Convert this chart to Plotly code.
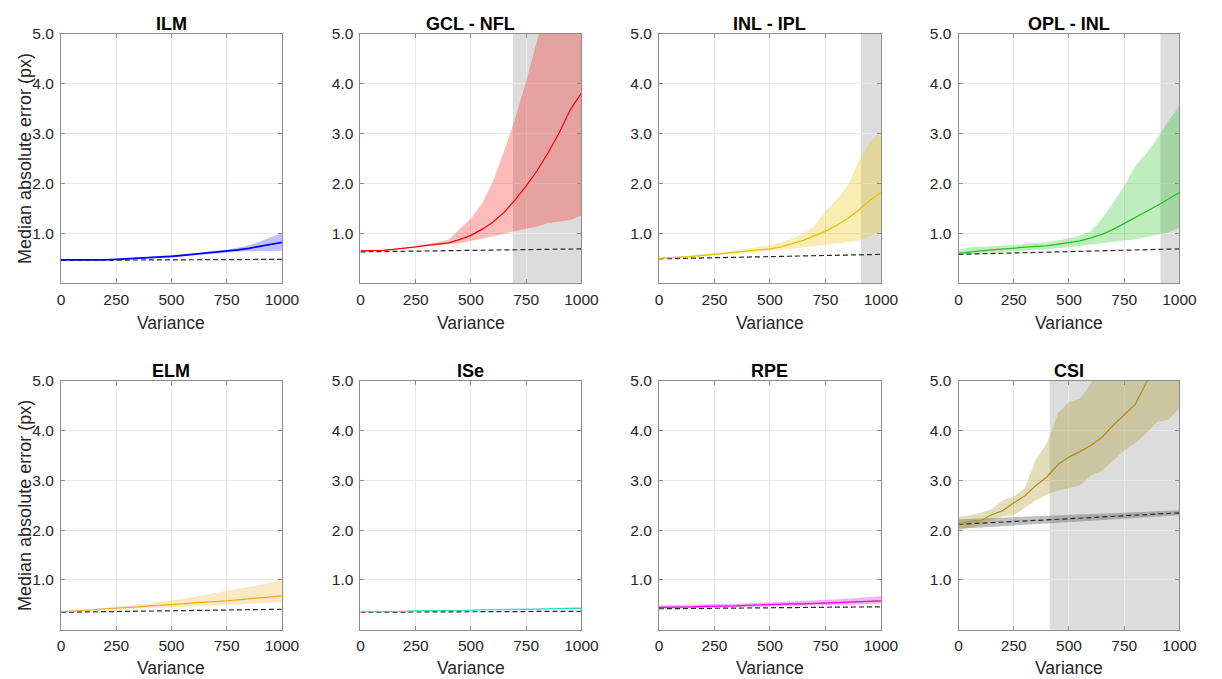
import plotly.graph_objects as go

# ---------------- data ----------------
variance = [0, 50, 100, 150, 200, 250, 300, 350, 400, 450, 500,
            550, 600, 650, 700, 750, 800, 850, 900, 950, 1000]
base_x = [0, 250, 500, 750, 1000]

titles = ["ILM", "GCL - NFL", "INL - IPL", "OPL - INL", "ELM", "ISe", "RPE", "CSI"]

ilm_med = [0.47, 0.47, 0.46, 0.46, 0.47, 0.48, 0.49, 0.50, 0.51, 0.53, 0.54, 0.56, 0.58, 0.60, 0.62, 0.64, 0.67, 0.70, 0.74, 0.79, 0.82]
ilm_hi  = [0.48, 0.48, 0.47, 0.47, 0.48, 0.49, 0.50, 0.52, 0.53, 0.55, 0.56, 0.58, 0.60, 0.62, 0.64, 0.67, 0.71, 0.76, 0.84, 0.93, 1.01]
ilm_lo  = [0.46, 0.46, 0.45, 0.45, 0.46, 0.47, 0.48, 0.49, 0.50, 0.51, 0.52, 0.54, 0.56, 0.57, 0.59, 0.61, 0.63, 0.64, 0.65, 0.65, 0.65]
ilm_base = [0.46, 0.465, 0.47, 0.475, 0.48]

gcl_med = [0.65, 0.65, 0.66, 0.68, 0.70, 0.73, 0.76, 0.78, 0.81, 0.88, 0.96, 1.08, 1.23, 1.42, 1.67, 1.95, 2.26, 2.62, 3.02, 3.48, 3.81]
gcl_hi  = [0.66, 0.66, 0.67, 0.69, 0.71, 0.74, 0.78, 0.82, 0.88, 1.08, 1.30, 1.60, 2.05, 2.65, 3.30, 4.05, 4.95, 5.80, 6.50, 7.20, 7.80]
gcl_lo  = [0.64, 0.64, 0.65, 0.67, 0.69, 0.72, 0.74, 0.76, 0.78, 0.80, 0.84, 0.89, 0.94, 0.99, 1.05, 1.10, 1.14, 1.21, 1.24, 1.27, 1.36]
gcl_base = [0.63, 0.645, 0.66, 0.675, 0.69]

inl_med = [0.50, 0.51, 0.52, 0.54, 0.56, 0.58, 0.60, 0.62, 0.64, 0.66, 0.69, 0.73, 0.79, 0.86, 0.95, 1.04, 1.16, 1.30, 1.47, 1.66, 1.82]
inl_hi  = [0.51, 0.52, 0.54, 0.56, 0.58, 0.61, 0.63, 0.66, 0.69, 0.72, 0.76, 0.82, 0.90, 1.00, 1.15, 1.45, 1.68, 1.95, 2.45, 2.82, 3.05]
inl_lo  = [0.49, 0.50, 0.51, 0.52, 0.54, 0.56, 0.58, 0.60, 0.61, 0.63, 0.65, 0.67, 0.69, 0.71, 0.74, 0.77, 0.79, 0.82, 0.86, 0.95, 1.02]
inl_base = [0.49, 0.51, 0.535, 0.56, 0.58]

opl_med = [0.60, 0.63, 0.65, 0.67, 0.69, 0.70, 0.72, 0.74, 0.75, 0.78, 0.81, 0.85, 0.91, 0.98, 1.08, 1.20, 1.32, 1.43, 1.56, 1.69, 1.82]
opl_hi  = [0.66, 0.72, 0.73, 0.74, 0.75, 0.76, 0.79, 0.81, 0.82, 0.86, 0.91, 0.96, 1.05, 1.30, 1.62, 1.95, 2.35, 2.60, 2.90, 3.25, 3.55]
opl_lo  = [0.56, 0.58, 0.60, 0.61, 0.62, 0.64, 0.65, 0.67, 0.68, 0.70, 0.72, 0.74, 0.77, 0.80, 0.83, 0.86, 0.88, 0.92, 0.97, 1.02, 1.12]
opl_base = [0.58, 0.61, 0.64, 0.665, 0.69]

elm_med = [0.36, 0.37, 0.39, 0.40, 0.42, 0.43, 0.45, 0.46, 0.48, 0.49, 0.51, 0.52, 0.54, 0.55, 0.57, 0.58, 0.60, 0.62, 0.64, 0.66, 0.68]
elm_hi  = [0.37, 0.38, 0.40, 0.42, 0.44, 0.46, 0.48, 0.50, 0.53, 0.56, 0.59, 0.62, 0.65, 0.70, 0.74, 0.78, 0.81, 0.85, 0.90, 0.95, 1.00]
elm_lo  = [0.35, 0.36, 0.37, 0.38, 0.39, 0.40, 0.41, 0.42, 0.43, 0.44, 0.45, 0.46, 0.47, 0.48, 0.49, 0.50, 0.51, 0.52, 0.53, 0.54, 0.55]
elm_base = [0.35, 0.365, 0.38, 0.395, 0.41]

ise_med = [0.36, 0.36, 0.37, 0.37, 0.37, 0.38, 0.38, 0.38, 0.39, 0.39, 0.39, 0.40, 0.40, 0.40, 0.41, 0.41, 0.41, 0.42, 0.42, 0.43, 0.43]
ise_hi  = [0.37, 0.37, 0.38, 0.38, 0.38, 0.39, 0.39, 0.39, 0.40, 0.40, 0.41, 0.41, 0.42, 0.42, 0.43, 0.43, 0.43, 0.44, 0.44, 0.45, 0.45]
ise_lo  = [0.35, 0.35, 0.36, 0.36, 0.36, 0.37, 0.37, 0.37, 0.38, 0.38, 0.38, 0.39, 0.39, 0.39, 0.40, 0.40, 0.40, 0.41, 0.41, 0.41, 0.41]
ise_base = [0.35, 0.355, 0.36, 0.365, 0.37]

rpe_med = [0.45, 0.45, 0.46, 0.46, 0.47, 0.47, 0.48, 0.48, 0.49, 0.50, 0.50, 0.51, 0.52, 0.52, 0.53, 0.54, 0.55, 0.56, 0.57, 0.58, 0.58]
rpe_hi  = [0.49, 0.49, 0.50, 0.50, 0.51, 0.51, 0.52, 0.52, 0.53, 0.54, 0.55, 0.55, 0.56, 0.57, 0.58, 0.59, 0.61, 0.62, 0.64, 0.66, 0.67]
rpe_lo  = [0.42, 0.42, 0.43, 0.43, 0.44, 0.44, 0.45, 0.45, 0.46, 0.46, 0.47, 0.47, 0.48, 0.48, 0.49, 0.49, 0.50, 0.50, 0.51, 0.51, 0.52]
rpe_base = [0.42, 0.43, 0.44, 0.45, 0.46]

csi_med = [2.12, 2.18, 2.19, 2.31, 2.39, 2.55, 2.69, 2.90, 3.07, 3.32, 3.47, 3.58, 3.71, 3.87, 4.11, 4.33, 4.53, 4.97, 5.40, 5.80, 6.20]
csi_hi  = [2.27, 2.30, 2.35, 2.42, 2.60, 2.68, 2.85, 3.42, 3.75, 4.35, 4.58, 4.65, 4.95, 5.30, 5.60, 6.00, 6.40, 6.80, 7.20, 7.60, 8.00]
csi_lo  = [2.00, 2.05, 2.10, 2.20, 2.28, 2.30, 2.45, 2.60, 2.72, 2.80, 2.85, 2.90, 3.10, 3.20, 3.40, 3.60, 3.75, 3.95, 4.18, 4.22, 4.45]
csi_base = [2.12, 2.17, 2.23, 2.29, 2.35]
csi_base_hi = [2.22, 2.26, 2.30, 2.35, 2.40]
csi_base_lo = [2.03, 2.09, 2.16, 2.23, 2.30]

# variance above which the shaded (grey) zone starts; None = no zone
shade_from = [None, 690, 910, 914, None, None, None, 413]

x_ticks = [0, 250, 500, 750, 1000]
x_ticktext = ["0", "250", "500", "750", "1000"]
y_ticks = [1, 2, 3, 4, 5]
y_ticktext = ["1.0", "2.0", "3.0", "4.0", "5.0"]

line_colors = ["#0000FF", "#FF0000", "#E6C200", "#1EC31E", "#F5A81E", "#2DD9C2", "#E000E0", "#A89214"]
fill_colors = ["rgba(0,0,255,0.25)", "rgba(255,0,0,0.27)", "rgba(235,205,40,0.35)",
               "rgba(40,200,40,0.3)", "rgba(245,175,40,0.28)", "rgba(40,220,200,0.45)",
               "rgba(230,0,230,0.3)", "rgba(170,150,40,0.32)"]

meds = [ilm_med, gcl_med, inl_med, opl_med, elm_med, ise_med, rpe_med, csi_med]
his = [ilm_hi, gcl_hi, inl_hi, opl_hi, elm_hi, ise_hi, rpe_hi, csi_hi]
los = [ilm_lo, gcl_lo, inl_lo, opl_lo, elm_lo, ise_lo, rpe_lo, csi_lo]
bases = [ilm_base, gcl_base, inl_base, opl_base, elm_base, ise_base, rpe_base, csi_base]

# ---------------- layout geometry ----------------
W, H = 1222, 679
col_px = [(58, 283), (363, 588), (667, 893), (972, 1197)]
row_px = [(25, 278), (377, 629)]

FONT = "Liberation Sans, Arial, Helvetica, sans-serif"
fig = go.Figure()
layout = dict(width=W, height=H, margin=dict(l=0, r=0, t=0, b=0),
              paper_bgcolor="white", plot_bgcolor="white", showlegend=False,
              font=dict(family=FONT, color="#262626"))
shapes = []
annotations = []

for i in range(8):
    r, c = divmod(i, 4)
    n = i + 1
    xa = "x" if n == 1 else f"x{n}"
    ya = "y" if n == 1 else f"y{n}"
    x0p, x1p = col_px[c]
    y0p, y1p = row_px[r]
    axis_common = dict(showgrid=True, gridcolor="#e8e8e8", gridwidth=1,
                       showline=True, mirror="ticks", linecolor="#8c8c8c", linewidth=1,
                       ticks="inside", ticklen=4, tickcolor="#8c8c8c", zeroline=False,
                       tickfont=dict(size=15.5, color="#262626", family=FONT))
    layout["xaxis" if n == 1 else f"xaxis{n}"] = dict(
        axis_common, domain=[x0p / W, x1p / W], range=[0, 1000],
        tickvals=x_ticks, ticktext=x_ticktext, anchor=ya, ticklabelstandoff=2)
    layout["yaxis" if n == 1 else f"yaxis{n}"] = dict(
        axis_common, domain=[1 - y1p / H, 1 - y0p / H], range=[0, 5],
        tickvals=y_ticks, ticktext=y_ticktext, anchor=xa, ticklabelstandoff=3)

    if shade_from[i] is not None:
        shapes.append(dict(type="rect", xref=xa, yref=f"{ya} domain",
                           x0=shade_from[i], x1=1000, y0=0, y1=1,
                           fillcolor="rgb(220,220,220)", line=dict(width=0), layer="below"))

    # baseline band (CSI)
    if i == 7:
        fig.add_trace(go.Scatter(x=base_x + base_x[::-1], y=csi_base_hi + csi_base_lo[::-1],
                                 fill="toself", fillcolor="rgba(110,110,110,0.45)",
                                 line=dict(width=0), mode="lines", xaxis=xa, yaxis=ya,
                                 hoverinfo="skip"))
    # error band
    fig.add_trace(go.Scatter(x=variance + variance[::-1], y=his[i] + los[i][::-1],
                             fill="toself", fillcolor=fill_colors[i], line=dict(width=0),
                             mode="lines", xaxis=xa, yaxis=ya, hoverinfo="skip"))
    # baseline dashed
    fig.add_trace(go.Scatter(x=base_x, y=bases[i], mode="lines",
                             line=dict(color="#2a2a2a", width=1.2, dash="5px,3px"),
                             xaxis=xa, yaxis=ya))
    # median
    fig.add_trace(go.Scatter(x=variance, y=meds[i], mode="lines",
                             line=dict(color=line_colors[i], width=1.6 if i == 0 else 1.2),
                             xaxis=xa, yaxis=ya))

    cx = (x0p + x1p) / 2 / W
    title_y = [15, 367][r]
    annotations.append(dict(text=f"<b>{titles[i]}</b>", x=cx, y=1 - title_y / H,
                            xref="paper", yref="paper", showarrow=False,
                            xanchor="center", yanchor="middle",
                            font=dict(size=18, color="black", family=FONT)))
    var_y = [318, 668][r]
    annotations.append(dict(text="Variance", x=cx, y=1 - var_y / H,
                            xref="paper", yref="paper", showarrow=False,
                            xanchor="center", yanchor="middle",
                            font=dict(size=17.5, color="#262626", family=FONT)))
    if c == 0:
        annotations.append(dict(text="Median absolute error (px)", x=22 / W,
                                y=1 - (y0p + y1p) / 2 / H, xref="paper", yref="paper",
                                showarrow=False, textangle=-90,
                                xanchor="center", yanchor="middle",
                                font=dict(size=18, color="#262626", family=FONT)))

layout["shapes"] = shapes
layout["annotations"] = annotations
fig.update_layout(**layout)
fig.write_html("out.html")
